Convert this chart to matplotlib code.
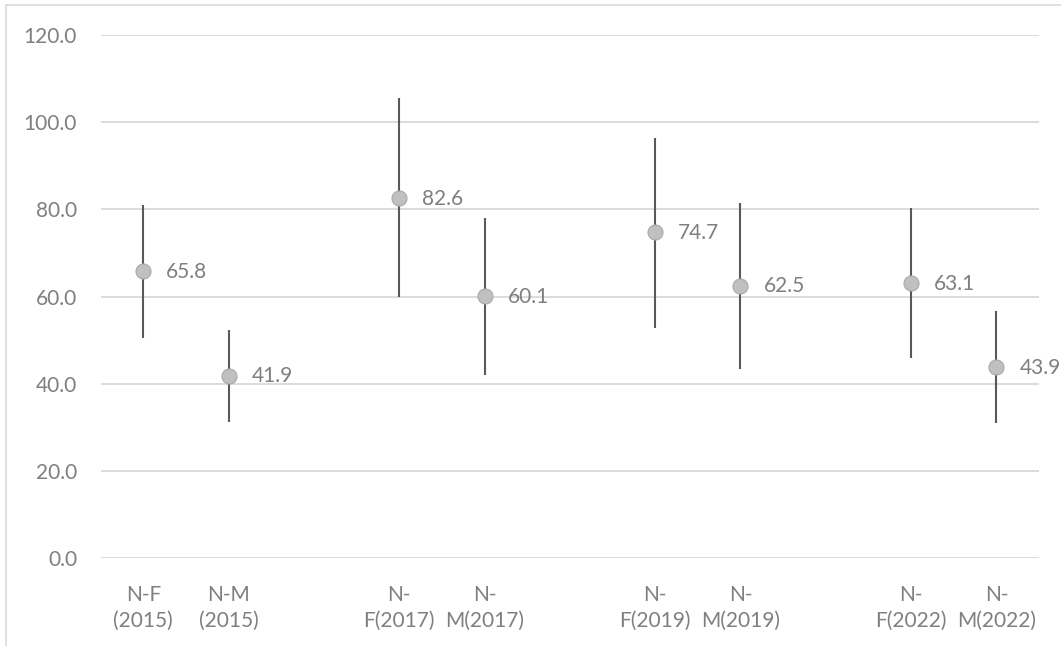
import matplotlib
matplotlib.use("Agg")
import matplotlib.pyplot as plt
from matplotlib.patches import Rectangle
import numpy as np

# categories (empty strings leave the gaps between survey years)
labels = ["N-F\n(2015)", "N-M\n(2015)", "",
          "N-\nF(2017)", "N-\nM(2017)", "",
          "N-\nF(2019)", "N-\nM(2019)", "",
          "N-\nF(2022)", "N-\nM(2022)"]
slots = [0, 1, 3, 4, 6, 7, 9, 10]
values = [65.8, 41.9, 82.6, 60.1, 74.7, 62.5, 63.1, 43.9]
lower = [50.6, 31.3, 59.8, 42.1, 52.8, 43.4, 46.0, 31.0]
upper = [81.0, 52.4, 105.4, 78.0, 96.4, 81.5, 80.3, 56.8]

plt.rcParams['font.family'] = ['Lato', 'DejaVu Sans']
txt_color = '#7f7f7f'
fsize = 15

fig = plt.figure(figsize=(10.61, 6.46), dpi=100)
ax = fig.add_axes([0.0949, 0.1355, 0.9843 - 0.0949 - 0.005, 0.9463 - 0.1355])

# chart area border
fig.patches.append(Rectangle((6 / 1061, -0.1), 1.2, 1 - 5 / 646 + 0.1,
                             transform=fig.transFigure, fill=False,
                             edgecolor='#d9d9d9', linewidth=1.2))

vals = np.array(values)
yerr = [vals - np.array(lower), np.array(upper) - vals]
ax.errorbar(slots, vals, yerr=yerr, fmt='none', ecolor='#595959',
            elinewidth=1.5, capsize=0, zorder=3)
ax.plot(slots, vals, 'o', ms=10.8, mfc='#c0c0c0', mec='#a8a8a8',
        mew=0.8, zorder=4)

for x, v in zip(slots, values):
    ax.annotate(f"{v:.1f}", (x, v), xytext=(16.5, -0.5), textcoords='offset points',
                ha='left', va='center', fontsize=fsize, color=txt_color)

ax.set_xlim(-0.5, 10.5)
ax.set_ylim(0, 120)
ax.set_yticks(np.arange(0, 121, 20))
ax.set_yticklabels([f"{t:.1f}" for t in np.arange(0, 121, 20)])
ax.set_xticks(range(len(labels)))
ax.set_xticklabels(labels, linespacing=1.4)
ax.tick_params(axis='both', length=0, labelsize=fsize, colors=txt_color)
ax.tick_params(axis='y', pad=17)
ax.tick_params(axis='x', pad=19)
ax.grid(axis='y', color='#d9d9d9', linewidth=1.3)
ax.set_axisbelow(True)
for s in ax.spines.values():
    s.set_visible(False)

fig.savefig("out.png", dpi=100)
